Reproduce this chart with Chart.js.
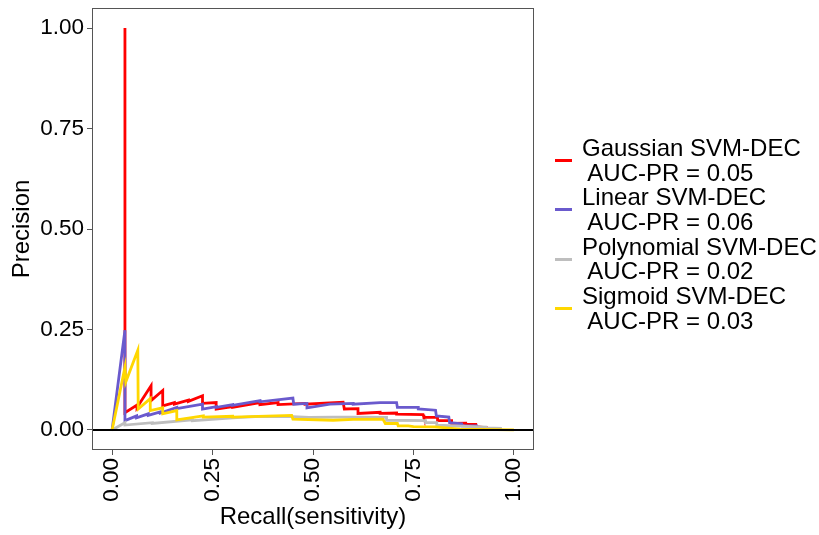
<!DOCTYPE html>
<html>
<head>
<meta charset="utf-8">
<script src="https://cdn.jsdelivr.net/npm/chart.js@4.4.1/dist/chart.umd.min.js"></script>
<style>
  html, body { margin: 0; padding: 0; background: #fff; }
  #wrap { position: relative; width: 819px; height: 535px; }
  canvas { position: absolute; left: 0; top: 0; }
  #legend { position: absolute; left: 555px; top: 136px; font-family: "Liberation Sans", Arial, sans-serif; font-size: 24px; color: #000; }
  .entry { position: relative; height: 49.3px; }
  .key { position: absolute; left: 0; width: 17px; height: 3px; top: 23px; }
  .txt { position: absolute; left: 27px; top: 0; line-height: 24.65px; white-space: pre; }
</style>
</head>
<body>
<div id="wrap">
  <canvas id="c" width="819" height="535"></canvas>
  <div id="legend"></div>
</div>
<script>
// ---- data ----
const seriesNames = ["Gaussian SVM-DEC", "Linear SVM-DEC", "Polynomial SVM-DEC", "Sigmoid SVM-DEC"];
const aucLabels = ["AUC-PR = 0.05", "AUC-PR = 0.06", "AUC-PR = 0.02", "AUC-PR = 0.03"];
const seriesColors = ["#FF0000", "#6A5ACD", "#BEBEBE", "#FFD700"];

const gaussianRecall = [0.032,0.032,0.062,0.062,0.097,0.097,0.126,0.126,0.155,0.155,0.19,0.19,0.225,0.225,0.259,0.259,0.30,0.30,0.368,0.368,0.413,0.413,0.48,0.48,0.575,0.578,0.612,0.612,0.667,0.667,0.708,0.708,0.774,0.776,0.81,0.81,0.845,0.845,0.88,0.88,0.905,0.905,0.935];
const gaussianPrecision = [1.0,0.043,0.062,0.056,0.110,0.073,0.098,0.060,0.068,0.064,0.074,0.071,0.085,0.066,0.068,0.052,0.058,0.056,0.068,0.063,0.068,0.063,0.066,0.064,0.069,0.052,0.053,0.041,0.044,0.041,0.042,0.039,0.038,0.031,0.031,0.023,0.023,0.016,0.017,0.014,0.014,0.008,0.005];

const linearRecall = [0,0.032,0.032,0.061,0.061,0.09,0.09,0.12,0.12,0.161,0.161,0.225,0.225,0.26,0.26,0.30,0.30,0.368,0.368,0.45,0.452,0.485,0.485,0.542,0.60,0.60,0.667,0.708,0.71,0.762,0.762,0.805,0.807,0.838,0.84,0.87,0.871,0.907,0.907];
const linearPrecision = [0,0.248,0.023,0.035,0.030,0.040,0.036,0.045,0.042,0.056,0.053,0.064,0.052,0.058,0.056,0.063,0.061,0.073,0.070,0.079,0.064,0.066,0.055,0.064,0.066,0.064,0.068,0.068,0.056,0.056,0.052,0.049,0.035,0.032,0.018,0.015,0.010,0.010,0.004];

const polyRecall = [0,0.032,0.032,0.10,0.10,0.20,0.20,0.30,0.356,0.45,0.49,0.55,0.60,0.683,0.683,0.78,0.78,0.808,0.808,0.93,0.93,0.97];
const polyPrecision = [0,0.018,0.012,0.018,0.016,0.025,0.023,0.030,0.033,0.033,0.031,0.032,0.032,0.031,0.024,0.023,0.018,0.018,0.012,0.007,0.005,0.004];

const sigmoidRecall = [0,0.032,0.034,0.064,0.065,0.095,0.095,0.126,0.126,0.161,0.161,0.227,0.227,0.30,0.30,0.447,0.45,0.55,0.60,0.674,0.68,0.71,0.712,0.737,0.75,0.803,0.866,1.0];
const sigmoidPrecision = [0,0.156,0.119,0.198,0.052,0.078,0.048,0.055,0.040,0.048,0.025,0.035,0.032,0.034,0.032,0.036,0.027,0.024,0.026,0.027,0.016,0.016,0.010,0.010,0.008,0.0075,0.002,0.0];

const xTickValues = [0, 0.25, 0.5, 0.75, 1];
const xTickLabels = ["0.00", "0.25", "0.50", "0.75", "1.00"];
const yTickValues = [0, 0.25, 0.5, 0.75, 1];
const yTickLabels = ["0.00", "0.25", "0.50", "0.75", "1.00"];
const hlineY = 0;

// ---- build ----
const recalls = [gaussianRecall, linearRecall, polyRecall, sigmoidRecall];
const precisions = [gaussianPrecision, linearPrecision, polyPrecision, sigmoidPrecision];

const datasets = seriesNames.map((name, i) => ({
  label: name,
  data: recalls[i].map((r, j) => ({ x: r, y: precisions[i][j] })),
  borderColor: seriesColors[i],
  backgroundColor: seriesColors[i],
  borderWidth: 2.8,
  pointRadius: 0,
  showLine: true,
  tension: 0,
  fill: false,
  order: seriesNames.length - i
}));

const FONT = "'Liberation Sans', Arial, sans-serif";

const extras = {
  id: 'extras',
  afterDatasetsDraw(chart) {
    const { ctx, chartArea: a, scales } = chart;
    const y0 = scales.y.getPixelForValue(hlineY);
    ctx.save();
    ctx.strokeStyle = '#000';
    ctx.lineWidth = 2;
    ctx.beginPath();
    ctx.moveTo(a.left, y0);
    ctx.lineTo(a.right, y0);
    ctx.stroke();
    ctx.strokeStyle = '#555';
    ctx.lineWidth = 1;
    ctx.strokeRect(a.left + 0.5, a.top + 0.5, a.right - a.left - 1, a.bottom - a.top - 1);
    ctx.restore();
  }
};

new Chart(document.getElementById('c'), {
  type: 'scatter',
  data: { datasets },
  options: {
    responsive: false,
    animation: false,
    devicePixelRatio: 1,
    layout: { padding: { left: 0, right: 285, top: 8, bottom: 0 } },
    plugins: { legend: { display: false }, tooltip: { enabled: false } },
    scales: {
      x: {
        type: 'linear', min: -0.05, max: 1.05,
        afterBuildTicks: s => { s.ticks = xTickValues.map(v => ({ value: v })); },
        afterFit: s => { s.height = 85; s.paddingLeft = 0; s.paddingRight = 0; },
        ticks: {
          callback: (v, i) => xTickLabels[i],
          autoSkip: false, maxRotation: 90, minRotation: 90, padding: 3,
          color: '#000', font: { family: FONT, size: 22.5 }
        },
        grid: { display: true, drawOnChartArea: false, drawTicks: true, tickLength: 5, color: '#555', lineWidth: 1 },
        border: { display: false },
        title: { display: true, text: 'Recall(sensitivity)', color: '#000', font: { family: FONT, size: 24 }, padding: { top: 0, bottom: 3.6 } }
      },
      y: {
        type: 'linear', min: -0.05, max: 1.05,
        afterBuildTicks: s => { s.ticks = yTickValues.map(v => ({ value: v })); },
        afterFit: s => { s.width = 92; s.paddingTop = 0; s.paddingBottom = 0; },
        ticks: {
          callback: (v, i) => yTickLabels[i],
          autoSkip: false, padding: 3,
          color: '#000', font: { family: FONT, size: 22.5 }
        },
        grid: { display: true, drawOnChartArea: false, drawTicks: true, tickLength: 5, color: '#555', lineWidth: 1 },
        border: { display: false },
        title: { display: true, text: 'Precision', color: '#000', font: { family: FONT, size: 24 }, padding: { top: 7.6, bottom: 0 } }
      }
    }
  },
  plugins: [extras]
});

// ---- legend ----
const leg = document.getElementById('legend');
seriesNames.forEach((name, i) => {
  const e = document.createElement('div');
  e.className = 'entry';
  const k = document.createElement('div');
  k.className = 'key';
  k.style.background = seriesColors[i];
  const t = document.createElement('div');
  t.className = 'txt';
  t.textContent = name + '\n ' + aucLabels[i];
  e.appendChild(k);
  e.appendChild(t);
  leg.appendChild(e);
});
</script>
</body>
</html>
